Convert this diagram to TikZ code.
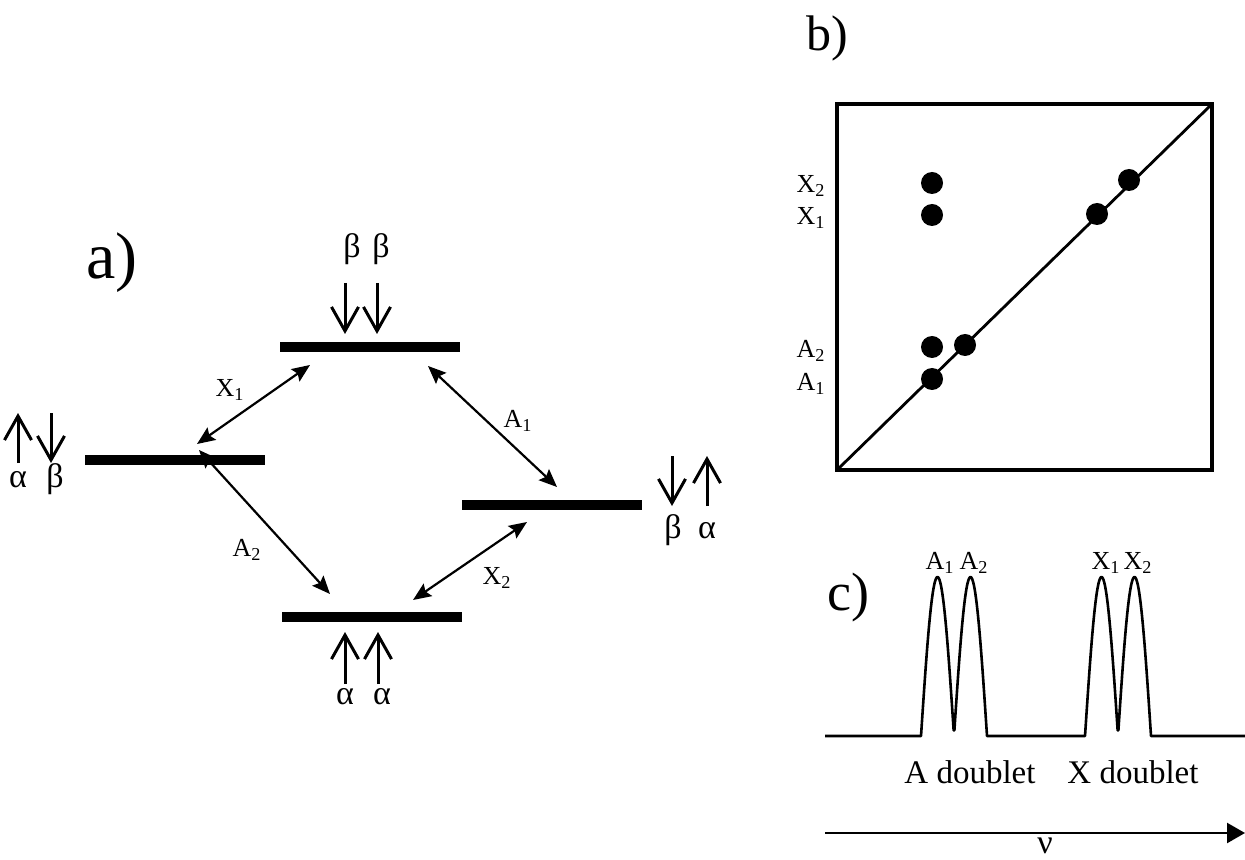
\documentclass[tikz,border=0pt]{standalone}
\usepackage{fontspec}
\setmainfont{Liberation Serif}
\usetikzlibrary{arrows.meta}

\begin{document}
\begin{tikzpicture}[x=0.5pt, y=-0.5pt,
      level/.style={fill, inner sep=0, minimum width=90pt, minimum height=4.6pt},
      trans/.style={{Stealth[length=9pt,width=7.5pt,inset=1.5pt]}-{Stealth[length=9pt,width=7.5pt,inset=1.5pt]},
                    line width=1.1pt},
      spin/.style={line width=1.5pt, -{Straight Barb[length=12pt,width=13.5pt]}},
      greek/.style={font=\fontsize{17}{19}\selectfont, inner sep=0, anchor=base},
      lbl/.style={font=\fontsize{13}{15}\selectfont, inner sep=0},
      panel/.style={font=\fontsize{#1}{#1}\selectfont, inner sep=0},
      dot/.style={circle, fill, inner sep=0, minimum size=11pt}]
    \useasboundingbox (0,0) rectangle (1245,860);

    % a) energy levels
    \node[panel=33] (pa) at (112,263) {a)};
    \node[level] (lvT) at (370,347) {};
    \node[level] (lvL) at (175,460) {};
    \node[level] (lvR) at (552,505) {};
    \node[level] (lvB) at (372,617) {};

    % spin labels
    \node[greek] (bT1) at (352,258) {β};
    \node[greek] (bT2) at (381,258) {β};
    \node[greek] (aL) at (18,487) {α};
    \node[greek] (bL) at (55,487) {β};
    \node[greek] (bR) at (673,538) {β};
    \node[greek] (aR) at (707,538) {α};
    \node[greek] (aB1) at (345,704) {α};
    \node[greek] (aB2) at (382,704) {α};

    % spin arrows
    \draw[spin] (345,283) -- (345,334);
    \draw[spin] (377,283) -- (377,334);
    \draw[spin] (18,463) -- (18,413);
    \draw[spin] (51,413) -- (51,463);
    \draw[spin] (672,456) -- (672,506);
    \draw[spin] (707,506) -- (707,456);
    \draw[spin] (345,684) -- (345,632);
    \draw[spin] (378,684) -- (378,632);

    % transitions
    \coordinate (x1a) at (197,444);
    \coordinate (x1b) at (310,365);
    \coordinate (a1a) at (428,366);
    \coordinate (a1b) at (557,487);
    \coordinate (a2a) at (199,450);
    \coordinate (a2b) at (330,594);
    \coordinate (x2a) at (413,600);
    \coordinate (x2b) at (527,522);
    \draw[trans] (x1a) -- (x1b);
    \draw[trans] (a1a) -- (a1b);
    \draw[trans] (a2a) -- (a2b);
    \draw[trans] (x2a) -- (x2b);
    \node[lbl] (lx1) at (230,390) {X\textsubscript{1}};
    \node[lbl] (la1) at (518,421) {A\textsubscript{1}};
    \node[lbl] (la2) at (247,550) {A\textsubscript{2}};
    \node[lbl] (lx2) at (497,578) {X\textsubscript{2}};

    % b) 2D map
    \node[panel=25] (pb) at (827,38) {b)};
    \coordinate (bl) at (837,470);
    \coordinate (tr) at (1212,104);
    \draw[line width=2pt] (bl) rectangle (tr);
    \draw[line width=1.4pt] (bl) -- (tr);
    \node[dot] (dx2) at (932,183) {};
    \node[dot] (dx1) at (932,215) {};
    \node[dot] (da2) at (932,347) {};
    \node[dot] (da1) at (932,379) {};
    \node[dot] (dd2) at (965,345) {};
    \node[dot] (dd3) at (1097,214) {};
    \node[dot] (dd4) at (1129,180) {};
    \node[lbl] (mx2) at (811,186) {X\textsubscript{2}};
    \node[lbl] (mx1) at (811,218) {X\textsubscript{1}};
    \node[lbl] (ma2) at (811,351) {A\textsubscript{2}};
    \node[lbl] (ma1) at (811,384) {A\textsubscript{1}};

    % c) spectrum
    \node[panel=27] (pc) at (848,598) {c)};
    \draw[line width=1.3pt, line join=round]
      (825,736) -- (921,736)
      -- plot[domain=921:987, samples=90] (\x, {736-159*abs(sin(180*(\x-921)/33))})
      -- (1085,736)
      -- plot[domain=1085:1151, samples=90] (\x, {736-159*abs(sin(180*(\x-1085)/33))})
      -- (1245,736);
    \node[lbl] (pa1) at (940,563) {A\textsubscript{1}};
    \node[lbl] (pa2) at (974,563) {A\textsubscript{2}};
    \node[lbl] (px1) at (1106,563) {X\textsubscript{1}};
    \node[lbl] (px2) at (1138,563) {X\textsubscript{2}};
    \node[font=\fontsize{16.5}{18}\selectfont, inner sep=0] (ad) at (970,772) {A doublet};
    \node[font=\fontsize{16.5}{18}\selectfont, inner sep=0] (xd) at (1133,772) {X doublet};

    % frequency axis
    \coordinate (ax0) at (825,833);
    \coordinate (ax1) at (1245,833);
    \draw[line width=1.2pt, -{Triangle[length=9pt,width=10pt]}] (ax0) -- (ax1);
    \node[greek] (nu) at (1045,853) {ν};
  \end{tikzpicture}
\end{document}
